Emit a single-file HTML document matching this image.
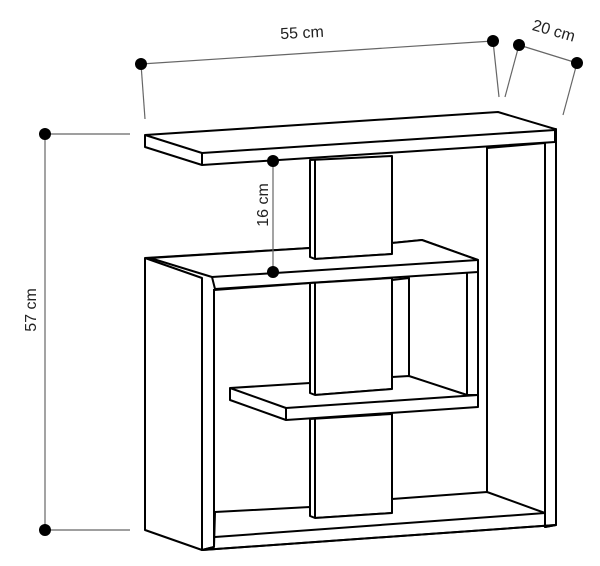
<!DOCTYPE html>
<html><head><style>html,body{margin:0;padding:0;background:#fff;}svg{display:block}</style></head>
<body>
<svg width="600" height="566" viewBox="0 0 600 566" xmlns="http://www.w3.org/2000/svg">
<g stroke="#000" stroke-width="2" fill="#fff" stroke-linejoin="round">
<polygon points="487,131 556,129 556,525 545,527 545,143 487,148"/>
<line x1="487" y1="148" x2="487" y2="492"/>
<polygon points="310,160 392,156 392,254 315,259 310,257"/>
<line x1="315" y1="160" x2="315" y2="259"/>
<polygon points="145,135 498,112 555,129 555,142 202,165 145,147"/>
<polyline points="145,135 202,153 555,130" fill="none"/>
<line x1="202" y1="153" x2="202" y2="165"/>
<polygon points="145,258 310,248 310,283 214,290 214,547 202,550 145,530"/>
<polyline points="145,258 202,278 202,550" fill="none"/>
<line x1="214" y1="289" x2="214" y2="547"/>
<polygon points="392,243 422,240 478,260 478,397 467,395 409,377 409,278 392,280"/>
<line x1="467" y1="272" x2="467" y2="395"/>
<line x1="409" y1="278" x2="409" y2="377"/>
<polygon points="150,258 310,248 310,257 315,259 392,254 392,243 422,240 478,260 478,272 215,289 212,277"/>
<line x1="212" y1="277" x2="478" y2="260"/>
<polygon points="310,283 392,278 392,389 315,395 310,393"/>
<line x1="315" y1="283" x2="315" y2="395"/>
<polygon points="230,388 310,383 310,393 315,395 392,389 392,377 409,376 467,395 478,395 478,407 286,420 230,400"/>
<polyline points="230,388 286,408 478,395" fill="none"/>
<line x1="286" y1="408" x2="286" y2="420"/>
<polygon points="310,419 392,414 392,513 315,518 310,516"/>
<line x1="315" y1="419" x2="315" y2="518"/>
<polygon points="215,512 310,507 310,516 315,518 392,513 392,499 487,492 545,513 545,527 556,525 202,550 214,547"/>
<line x1="215" y1="537" x2="545" y2="513"/>
<line x1="214" y1="512" x2="214" y2="547"/>
<line x1="202" y1="550" x2="556" y2="525"/>
</g>
<g stroke="#666" stroke-width="1.2" fill="none">
<line x1="141" y1="64" x2="493" y2="41"/>
<line x1="141" y1="64" x2="145" y2="119"/>
<line x1="493" y1="41" x2="499" y2="97"/>
<line x1="519" y1="45" x2="577" y2="63"/>
<line x1="519" y1="45" x2="505" y2="97"/>
<line x1="577" y1="63" x2="563" y2="115"/>
<line x1="45" y1="134" x2="45" y2="530"/>
<line x1="45" y1="134" x2="130" y2="134"/>
<line x1="45" y1="530" x2="130" y2="530"/>
<line x1="273" y1="161" x2="273" y2="272"/>
</g>
<g fill="#000">
<circle cx="141" cy="64" r="6"/><circle cx="493" cy="41" r="6"/>
<circle cx="519" cy="45" r="6"/><circle cx="577" cy="63" r="6"/>
<circle cx="45" cy="134" r="6"/><circle cx="45" cy="530" r="6"/>
<circle cx="273" cy="161" r="6"/><circle cx="273" cy="272" r="6"/>
</g>
<g font-family="Liberation Sans, sans-serif" font-size="16" fill="#222" text-anchor="middle">
<text x="302" y="38" transform="rotate(-3 302 32)">55 cm</text>
<text x="554" y="36" transform="rotate(16 554 30)">20 cm</text>
<text x="30" y="316" transform="rotate(-90 30 310)">57 cm</text>
<text x="262" y="211" transform="rotate(-90 262 205)">16 cm</text>
</g>
</svg>
</body></html>
